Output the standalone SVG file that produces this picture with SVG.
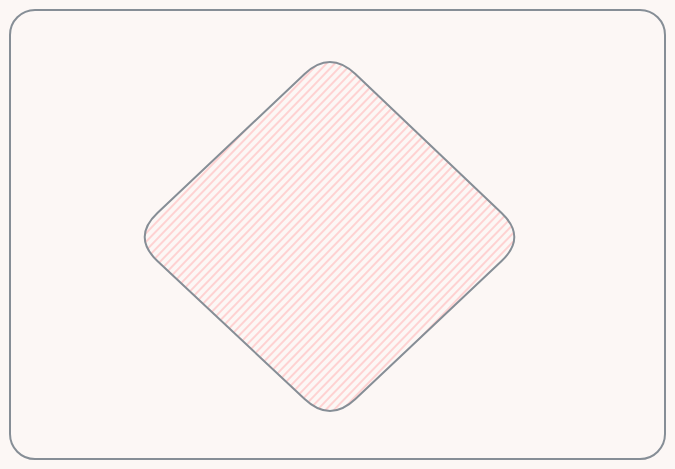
<svg xmlns="http://www.w3.org/2000/svg" width="675" height="469" viewBox="0 0 675 469">
<style>
.frame{fill:none;stroke:#868e96;stroke-width:2;stroke-linejoin:round}
.hatched{fill:url(#h);stroke:#868e96;stroke-width:2;stroke-linejoin:round}
.hatch{stroke:#ffc9c9;stroke-width:1.6}
</style>
<defs>
<pattern id="h" width="6" height="10" patternUnits="userSpaceOnUse" patternTransform="rotate(44)">
<line class="hatch" x1="3" y1="0" x2="3" y2="10"/>
</pattern>
</defs>
<rect x="0" y="0" width="675" height="469" fill="#fcf7f5"/>
<g id="container">
<rect class="frame" x="10" y="10" width="655" height="449" rx="25" ry="25"/>
</g>
<g id="diamond">
<path class="hatched" d="M355.4,74.1 L501.6,212.9 Q527,237 501.6,261 L355.4,399 Q330,423 304.6,399 L157.4,261 Q132,237 157.4,213 L304.6,74 Q330,50 355.4,74.1 Z"/>
</g>
<g id="connectors"/>
</svg>
